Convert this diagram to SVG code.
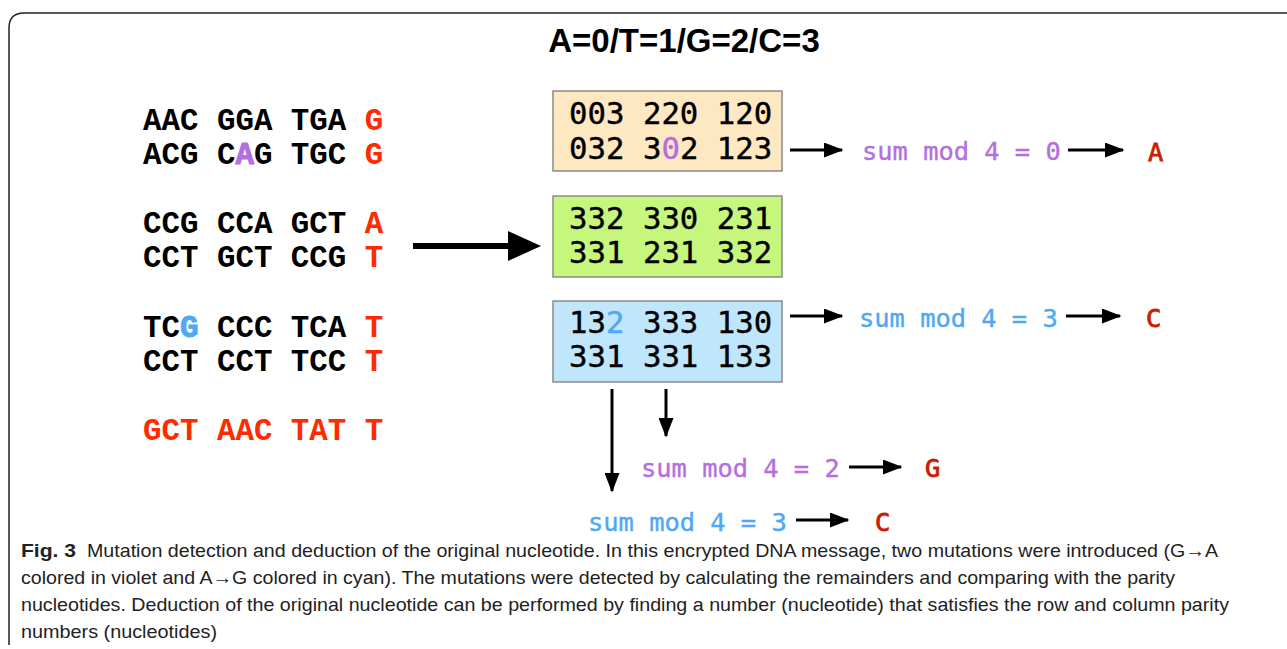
<svg xmlns="http://www.w3.org/2000/svg" width="1287" height="649" viewBox="0 0 1287 649">
<style>
.seq{font-family:"Liberation Mono","Courier New",monospace;font-weight:bold;font-size:30.8px;fill:#000}
.num{font-family:"DejaVu Sans Mono",monospace;font-size:30.7px;fill:#000;stroke:#000;stroke-width:0.4}
.sum{font-family:"DejaVu Sans Mono",monospace;font-size:25.4px;stroke-width:0.4}
.res{font-family:"DejaVu Sans Mono",monospace;font-size:25.4px;fill:#C82000;stroke:#C82000;stroke-width:0.8}
.red{fill:#FF2A00}
.vio{fill:#B36FE0;stroke:#B36FE0}
.cya{fill:#4FA8F5;stroke:#4FA8F5}
.box{stroke:#8a8a8a;stroke-width:1.5}
.ln{stroke:#000;stroke-width:3;fill:none}
.cap{font-family:"Liberation Sans",Arial,sans-serif;font-size:18.5px;fill:#222}
</style>
<defs>
<marker id="ah" markerWidth="6.5" markerHeight="5" refX="6" refY="2.5" orient="auto" markerUnits="strokeWidth">
<path d="M0,0 L6.5,2.5 L0,5 z" fill="#000"/>
</marker>
</defs>
<rect width="1287" height="649" fill="#fff"/>
<path d="M9,645 L9,28 Q9,13 24,13 L1290,13" fill="none" stroke="#222" stroke-width="1.5"/>
<text x="684" y="52" text-anchor="middle" font-family="Liberation Sans,Arial,sans-serif" font-weight="bold" font-size="33" fill="#000">A=0/T=1/G=2/C=3</text>

<g id="sequences">
<text class="seq" x="143" y="130">AAC GGA TGA <tspan class="red">G</tspan></text>
<text class="seq" x="143" y="164">ACG C<tspan class="vio" stroke="none">A</tspan>G TGC <tspan class="red">G</tspan></text>
<text class="seq" x="143" y="233">CCG CCA GCT <tspan class="red">A</tspan></text>
<text class="seq" x="143" y="267">CCT GCT CCG <tspan class="red">T</tspan></text>
<text class="seq" x="143" y="337">TC<tspan class="cya" stroke="none">G</tspan> CCC TCA <tspan class="red">T</tspan></text>
<text class="seq" x="143" y="371">CCT CCT TCC <tspan class="red">T</tspan></text>
<text class="seq red" x="143" y="440">GCT AAC TAT T</text>
</g>

<g id="box1">
<rect class="box" x="553" y="91" width="229" height="80" fill="#FDE8C2"/>
<text class="num" x="569" y="124">003 220 120</text>
<text class="num" x="569" y="159">032 3<tspan class="vio">0</tspan>2 123</text>
</g>
<g id="box2">
<rect class="box" x="553" y="196" width="229" height="81" fill="#C6F77C"/>
<text class="num" x="569" y="229">332 330 231</text>
<text class="num" x="569" y="263">331 231 332</text>
</g>
<g id="box3">
<rect class="box" x="553" y="301" width="229" height="81" fill="#BFE6FB"/>
<text class="num" x="569" y="333">13<tspan class="cya">2</tspan> 333 130</text>
<text class="num" x="569" y="367">331 331 133</text>
</g>

<g id="labels">
<text class="sum vio" x="862" y="160">sum mod 4 = 0</text>
<text class="res" x="1148" y="161">A</text>
<text class="sum cya" x="859" y="327">sum mod 4 = 3</text>
<text class="res" x="1146" y="327">C</text>
<text class="sum vio" x="641" y="477">sum mod 4 = 2</text>
<text class="res" x="925" y="477">G</text>
<text class="sum cya" x="588" y="531">sum mod 4 = 3</text>
<text class="res" x="875" y="531">C</text>
</g>

<g id="connectors">
<line x1="413" y1="246" x2="510" y2="246" stroke="#000" stroke-width="6"/>
<path d="M508,231 L541,246 L508,261 z" fill="#000"/>
<line class="ln" x1="790" y1="150" x2="842" y2="150" marker-end="url(#ah)"/>
<line class="ln" x1="1068" y1="150" x2="1123" y2="150" marker-end="url(#ah)"/>
<line class="ln" x1="790" y1="316" x2="842" y2="316" marker-end="url(#ah)"/>
<line class="ln" x1="1066" y1="316" x2="1120" y2="316" marker-end="url(#ah)"/>
<line class="ln" x1="612" y1="389" x2="612" y2="491" marker-end="url(#ah)"/>
<line class="ln" x1="666" y1="389" x2="666" y2="436" marker-end="url(#ah)"/>
<line class="ln" x1="849" y1="467" x2="901" y2="467" marker-end="url(#ah)"/>
<line class="ln" x1="796" y1="520" x2="848" y2="520" marker-end="url(#ah)"/>
</g>

<g id="caption">
<text class="cap" x="21" y="557" font-weight="bold" fill="#000" textLength="55" lengthAdjust="spacingAndGlyphs">Fig. 3</text>
<text class="cap" x="87" y="557" textLength="1131" lengthAdjust="spacingAndGlyphs">Mutation detection and deduction of the original nucleotide. In this encrypted DNA message, two mutations were introduced (G→A</text>
<text class="cap" x="21" y="584" textLength="1154" lengthAdjust="spacingAndGlyphs">colored in violet and A→G colored in cyan). The mutations were detected by calculating the remainders and comparing with the parity</text>
<text class="cap" x="21" y="611" textLength="1208" lengthAdjust="spacingAndGlyphs">nucleotides. Deduction of the original nucleotide can be performed by finding a number (nucleotide) that satisfies the row and column parity</text>
<text class="cap" x="21" y="638" textLength="196" lengthAdjust="spacingAndGlyphs">numbers (nucleotides)</text>
</g>
</svg>
